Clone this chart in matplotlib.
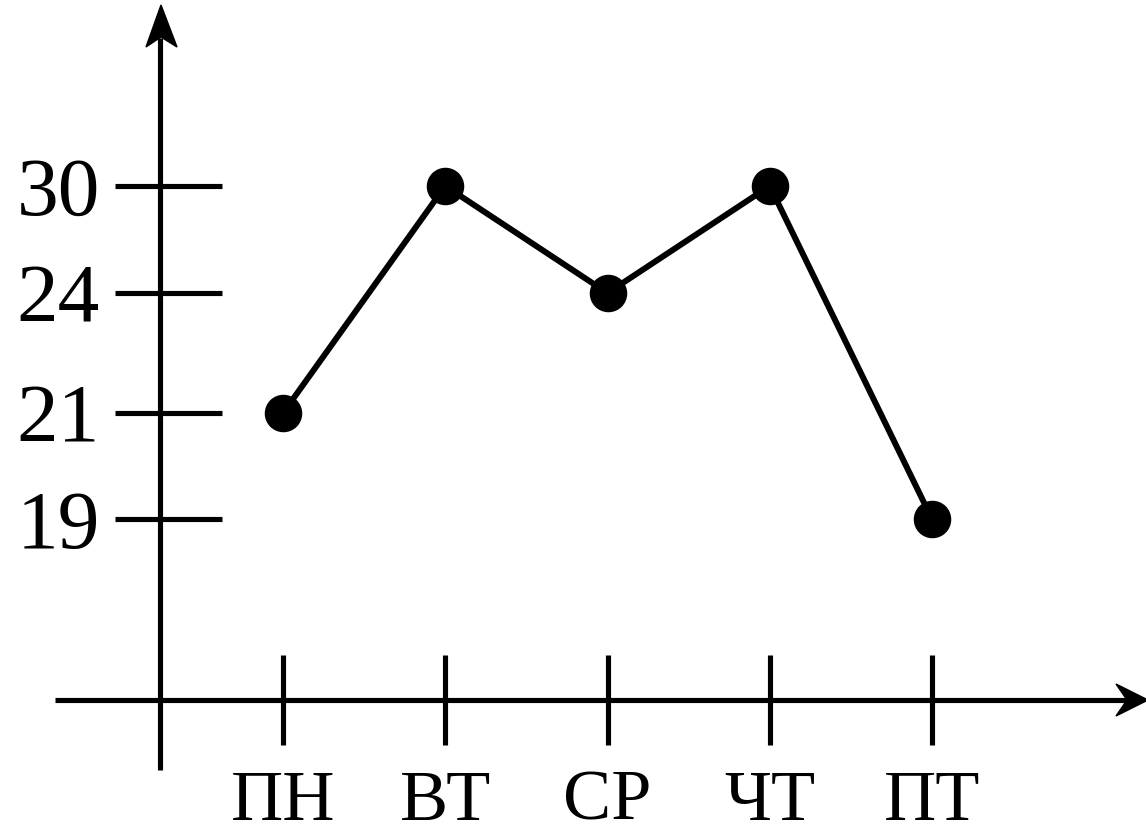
import numpy as np
import matplotlib
matplotlib.use("Agg")
import matplotlib.pyplot as plt
from matplotlib.patches import Polygon

# ---- data ----
days = ["ПН", "ВТ", "СР", "ЧТ", "ПТ"]
values = [21, 30, 24, 30, 19]
ytick_values = [19, 21, 24, 30]

W, H = 1146, 832
fig = plt.figure(figsize=(W / 100, H / 100), dpi=100)
ax = fig.add_axes([0, 0, 1, 1])

# non-uniform vertical scale (as drawn in the reference)
knot_v = np.array([-20.0, 0.0, 19.0, 21.0, 24.0, 30.0, 45.0])
knot_p = np.array([-190.5, 0.0, 181.0, 287.0, 407.0, 514.0, 781.5])
fwd = lambda v: np.interp(v, knot_v, knot_p)
inv = lambda p: np.interp(p, knot_p, knot_v)
ax.set_yscale("function", functions=(fwd, inv))

x_axis_py = 700  # pixel row of x axis
ax.set_ylim(inv(-(H - x_axis_py)), inv(x_axis_py))
x0_px, step_px = 283, 162.25
ax.set_xlim(-x0_px / step_px, (W - x0_px) / step_px)
ax.axis("off")

def px(x, y):
    return (x / W, 1 - y / H)

lw = 3.7
# axes lines
ax.plot(*zip(px(160, 770), px(160, 38)), transform=ax.transAxes, color="black", lw=lw, solid_capstyle="butt")
ax.plot(*zip(px(55, 700), px(1130, 700)), transform=ax.transAxes, color="black", lw=lw, solid_capstyle="butt")
ax.add_patch(Polygon([px(161, 5), px(146, 47), px(161, 37), px(177, 47)], closed=True,
                     transform=ax.transAxes, color="black"))
ax.add_patch(Polygon([px(1148, 700), px(1116, 684), px(1127, 700), px(1116, 716)], closed=True,
                     transform=ax.transAxes, color="black"))

# y ticks and labels
ytr = ax.get_yaxis_transform()
for v in ytick_values:
    ax.plot([115 / W, 222 / W], [v, v], transform=ytr, color="black", lw=lw, solid_capstyle="butt")
    ax.text(100 / W, v, str(v), transform=ytr, ha="right", va="center_baseline",
            fontsize=60, family="Liberation Serif")

# x ticks and labels
xtr = ax.get_xaxis_transform()
xs = np.arange(len(days))
for i, d in zip(xs, days):
    ax.plot([i, i], [1 - 655 / H, 1 - 745 / H], transform=xtr, color="black", lw=lw, solid_capstyle="butt")
    ax.text(i, 1 - 820 / H, d, transform=xtr, ha="center", va="baseline",
            fontsize=52, family="Liberation Serif")

# data line
ax.plot(xs, values, color="black", lw=4.3, marker="o", markersize=26, zorder=5)

fig.savefig("out.png", dpi=100)
